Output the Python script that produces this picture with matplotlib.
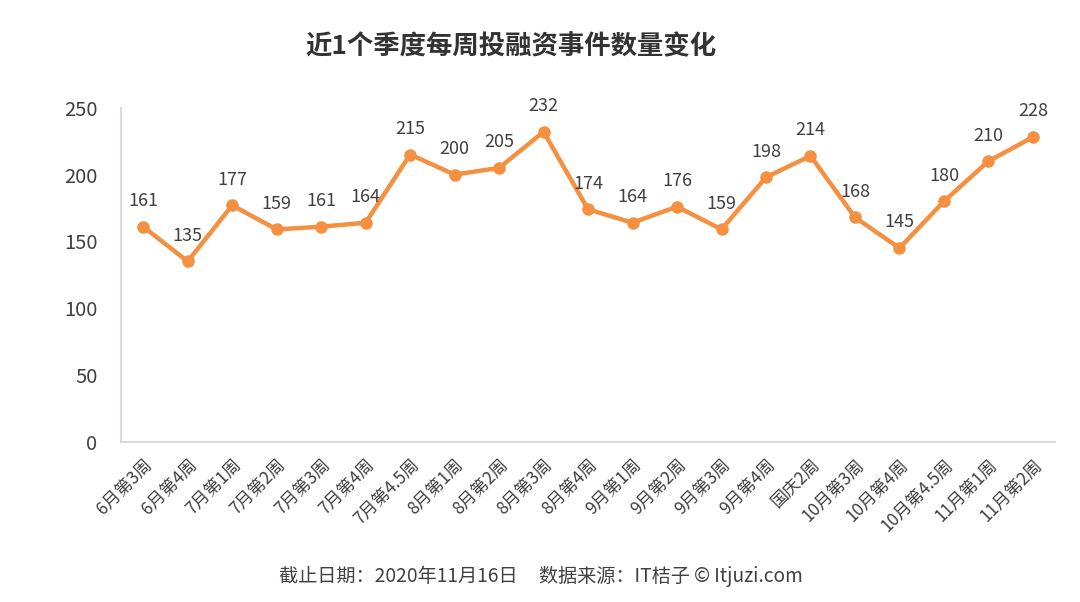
import matplotlib
matplotlib.use("Agg")
import matplotlib.pyplot as plt

plt.rcParams['font.family'] = ['Noto Sans CJK SC', 'DejaVu Sans']

categories = ["6月第3周", "6月第4周", "7月第1周", "7月第2周", "7月第3周", "7月第4周", "7月第4.5周",
              "8月第1周", "8月第2周", "8月第3周", "8月第4周", "9月第1周", "9月第2周", "9月第3周",
              "9月第4周", "国庆2周", "10月第3周", "10月第4周", "10月第4.5周", "11月第1周", "11月第2周"]
values = [161, 135, 177, 159, 161, 164, 215, 200, 205, 232, 174, 164, 176, 159, 198, 214, 168, 145, 180, 210, 228]
yticks = [0, 50, 100, 150, 200, 250]

title = "近1个季度每周投融资事件数量变化"
footer = "截止日期：2020年11月16日     数据来源：IT桔子 © Itjuzi.com"

orange = "#F4903F"
textc = "#404040"

fig = plt.figure(figsize=(10.8, 6.02), dpi=100)
ax = fig.add_axes([0.112, 0.266, 0.865, 0.555])
x = list(range(len(categories)))
ax.plot(x, values, color=orange, linewidth=3.2, marker='o', markersize=8, solid_joinstyle='round')
for xi, v in zip(x, values):
    ax.annotate(str(v), (xi, v), xytext=(0, 12), textcoords='offset points',
                ha='center', va='bottom', fontsize=13, color=textc)

ax.set_xlim(-0.5, len(categories) - 0.5)
ax.set_ylim(0, 250)
ax.set_yticks(yticks)
ax.set_yticklabels([str(t) for t in yticks], fontsize=14.5, color=textc)
ax.set_xticks(x)
ax.set_xticklabels(categories, rotation=45, ha='right', rotation_mode='anchor', fontsize=12.3, color=textc)
ax.tick_params(length=0)
ax.tick_params(axis='y', pad=17)
ax.tick_params(axis='x', pad=10)
for s in ['top', 'right']:
    ax.spines[s].set_visible(False)
for s in ['left', 'bottom']:
    ax.spines[s].set_color('#D9D9D9')
    ax.spines[s].set_linewidth(1.5)

fig.text(0.473, 0.922, title, ha='center', va='center', fontsize=19, fontweight='bold', color='#333333')
fig.text(0.501, 0.042, footer, ha='center', va='center', fontsize=13.8, color=textc)

fig.savefig("out.png", dpi=100, facecolor='white')
